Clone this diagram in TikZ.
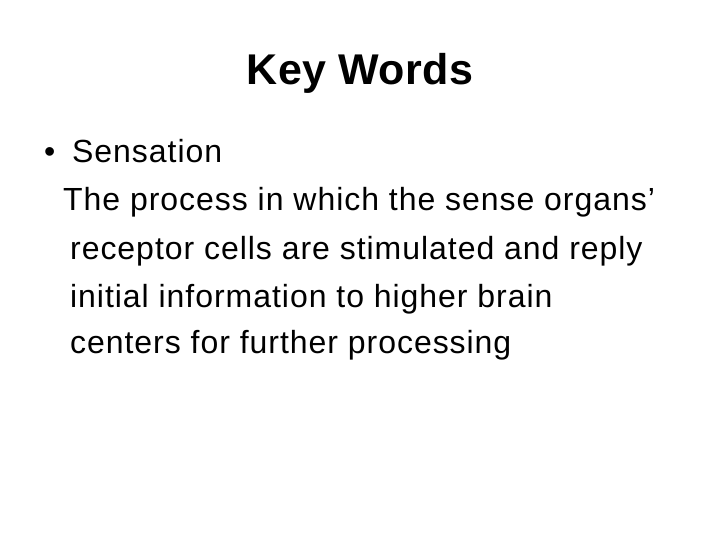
\documentclass[tikz,border=0pt]{standalone}
\usepackage{fontspec}
\setmainfont{Liberation Sans}
\begin{document}
\begin{tikzpicture}[x=1pt,y=-1pt,
  body/.style={anchor=base west,inner sep=0pt,font=\fontsize{32}{38}\selectfont\addfontfeatures{LetterSpace=3}}]
\useasboundingbox (0,0) rectangle (720,540);
\node[anchor=base,inner sep=0pt,font=\fontsize{43}{50}\selectfont\bfseries\addfontfeatures{LetterSpace=1}] (title) at (360,85) {Key Words};
\node[body] (bul) at (44,163) {•};
\node[body] (s) at (72,163) {Sensation};
\node[body] (l1) at (63,211) {The process in which the sense organs’};
\node[body] (l2) at (70,259) {receptor cells are stimulated and reply};
\node[body] (l3) at (70,307) {initial information to higher brain};
\node[body] (l4) at (70,353) {centers for further processing};
\end{tikzpicture}
\end{document}
